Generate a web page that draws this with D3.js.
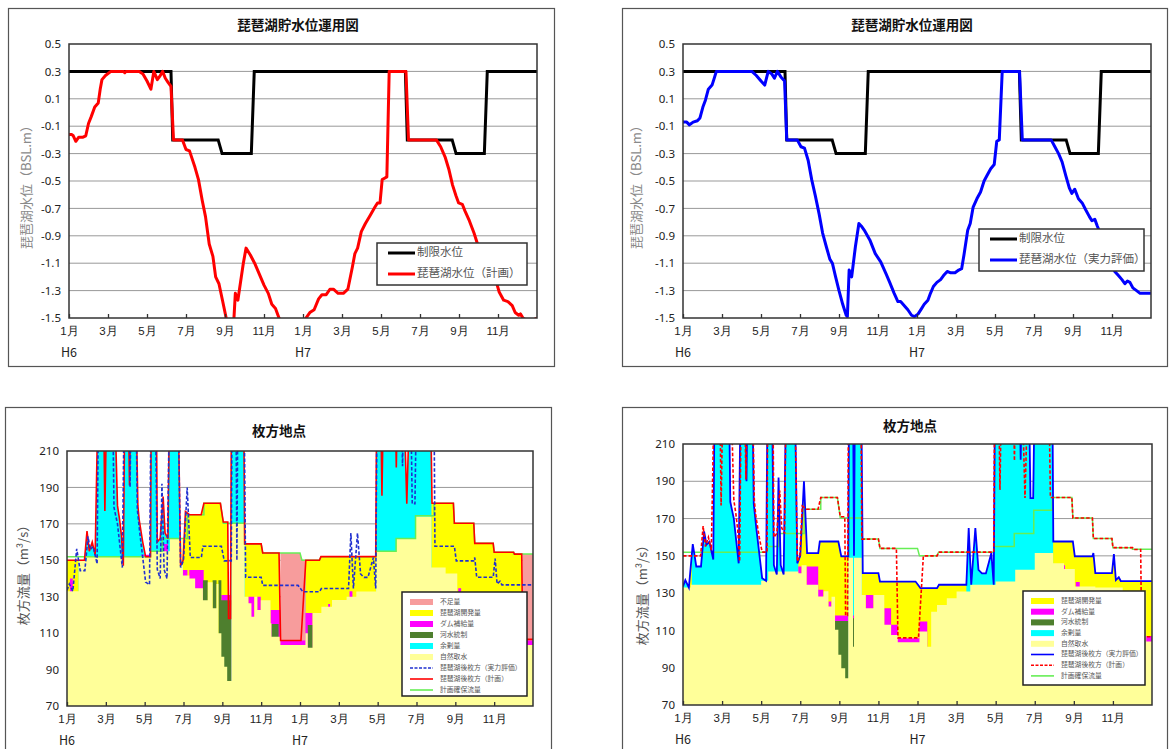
<!DOCTYPE html>
<html><head><meta charset="utf-8">
<script src="https://cdn.jsdelivr.net/npm/d3@7"></script>
<style>
body{margin:0;background:#fff;}
svg{display:block;font-family:"Noto Sans CJK JP","Noto Sans",sans-serif;}
</style>
</head><body>
<svg id="c" width="1169" height="749"></svg>
<script>
// ---------- axis data ----------
const monthTicks = [0,2,4,6,8,10,12,14,16,18,20,22];
const monthLabels = ["1月","3月","5月","7月","9月","11月","1月","3月","5月","7月","9月","11月"];
const yearTicks = [0,12];
const yearLabels = ["H6","H7"];
const levelTicks = [0.5,0.3,0.1,-0.1,-0.3,-0.5,-0.7,-0.9,-1.1,-1.3,-1.5];
const flowTicks = [210,190,170,150,130,110,90,70];

// ---------- lake level (months since Jan H6, BSL m) ----------
const limitLevel = [[0,0.3],[5.23,0.3],[5.32,-0.2],[7.65,-0.2],[7.85,-0.3],[9.35,-0.3],[9.5,0.3],[17.25,0.3],[17.35,-0.2],[19.65,-0.2],[19.85,-0.3],[21.3,-0.3],[21.45,0.3],[24,0.3]];

const planLevel = [[0,-0.16],[0.13,-0.16],[0.22,-0.17],[0.35,-0.21],[0.5,-0.18],[0.72,-0.18],[0.86,-0.17],[1.0,-0.08],[1.14,-0.03],[1.32,0.04],[1.5,0.07],[1.6,0.17],[1.69,0.24],[1.87,0.27],[2.15,0.3],[2.8,0.3],[2.86,0.29],[2.92,0.3],[3.6,0.3],[3.8,0.28],[4.0,0.23],[4.2,0.17],[4.35,0.3],[4.53,0.24],[4.68,0.27],[4.8,0.3],[4.94,0.25],[5.08,0.22],[5.23,0.19],[5.36,-0.2],[5.82,-0.2],[6.0,-0.27],[6.18,-0.28],[6.46,-0.4],[6.64,-0.49],[6.83,-0.64],[7.0,-0.76],[7.19,-0.96],[7.38,-1.05],[7.52,-1.2],[7.69,-1.25],[7.87,-1.37],[8.06,-1.5],[8.2,-1.62],[8.42,-1.6],[8.53,-1.32],[8.66,-1.37],[8.94,-1.1],[9.08,-0.99],[9.3,-1.04],[9.52,-1.1],[9.76,-1.18],[10.0,-1.26],[10.22,-1.32],[10.4,-1.4],[10.59,-1.43],[10.77,-1.5],[11.2,-1.62],[11.8,-1.62],[12.15,-1.5],[12.35,-1.46],[12.57,-1.44],[12.8,-1.36],[12.97,-1.33],[13.19,-1.33],[13.38,-1.29],[13.56,-1.29],[13.8,-1.32],[14.07,-1.32],[14.3,-1.29],[14.53,-1.13],[14.66,-1.03],[14.8,-0.99],[14.99,-0.87],[15.2,-0.81],[15.45,-0.75],[15.69,-0.69],[15.82,-0.66],[15.95,-0.66],[16.06,-0.49],[16.18,-0.48],[16.3,-0.47],[16.42,0.3],[17.28,0.3],[17.41,-0.2],[18.84,-0.2],[19.06,-0.25],[19.3,-0.33],[19.49,-0.42],[19.67,-0.53],[19.85,-0.61],[19.98,-0.66],[20.17,-0.67],[20.31,-0.72],[20.53,-0.79],[20.77,-0.88],[20.95,-0.96],[21.3,-1.05],[21.6,-1.15],[21.96,-1.26],[22.06,-1.31],[22.29,-1.37],[22.51,-1.38],[22.73,-1.41],[22.88,-1.46],[23.06,-1.48],[23.15,-1.47],[23.28,-1.5],[23.6,-1.53],[24,-1.5]];

const evalLevel = [[0,-0.07],[0.19,-0.07],[0.33,-0.09],[0.52,-0.07],[0.74,-0.06],[0.87,-0.04],[1.02,0.04],[1.15,0.09],[1.3,0.17],[1.49,0.2],[1.58,0.24],[1.71,0.3],[3.53,0.3],[3.76,0.27],[4.0,0.23],[4.19,0.2],[4.37,0.3],[4.56,0.28],[4.69,0.25],[4.84,0.3],[5.02,0.26],[5.21,0.23],[5.32,-0.2],[5.86,-0.2],[6.05,-0.25],[6.23,-0.26],[6.42,-0.35],[6.6,-0.49],[6.79,-0.61],[6.98,-0.74],[7.16,-0.88],[7.35,-0.98],[7.53,-1.07],[7.66,-1.1],[7.81,-1.19],[8.0,-1.3],[8.19,-1.4],[8.37,-1.48],[8.43,-1.49],[8.52,-1.15],[8.65,-1.2],[8.84,-0.98],[9.02,-0.81],[9.15,-0.83],[9.3,-0.86],[9.58,-0.93],[9.86,-1.03],[10.14,-1.09],[10.42,-1.18],[10.6,-1.24],[10.83,-1.32],[11.02,-1.38],[11.16,-1.38],[11.35,-1.41],[11.53,-1.44],[11.72,-1.48],[11.87,-1.49],[12.06,-1.47],[12.24,-1.43],[12.37,-1.4],[12.56,-1.37],[12.69,-1.32],[12.84,-1.27],[13.02,-1.24],[13.21,-1.22],[13.36,-1.19],[13.55,-1.16],[13.73,-1.17],[13.95,-1.17],[14.14,-1.15],[14.29,-1.14],[14.42,-1.03],[14.6,-0.86],[14.73,-0.81],[14.88,-0.69],[15.07,-0.63],[15.26,-0.58],[15.44,-0.5],[15.59,-0.46],[15.78,-0.41],[15.96,-0.38],[16.09,-0.21],[16.22,-0.2],[16.37,0.3],[17.26,0.3],[17.4,-0.2],[18.88,-0.2],[19.07,-0.25],[19.26,-0.3],[19.44,-0.36],[19.63,-0.46],[19.81,-0.55],[19.94,-0.59],[20.09,-0.56],[20.28,-0.63],[20.47,-0.66],[20.65,-0.71],[20.84,-0.76],[20.97,-0.79],[21.12,-0.78],[21.25,-0.83],[21.6,-0.95],[21.9,-1.07],[22.14,-1.16],[22.33,-1.19],[22.51,-1.22],[22.66,-1.25],[22.79,-1.23],[22.92,-1.24],[23.07,-1.28],[23.26,-1.3],[23.44,-1.32],[23.63,-1.32],[24,-1.32]];

// ---------- Hirakata flows (months, m3/s) ----------
const flowPlan = [[0,150],[0.9,150],[1.03,166],[1.15,155],[1.3,160],[1.45,153],[1.6,240],[1.88,240],[1.95,177],[2.05,240],[2.45,240],[2.6,180],[2.7,173],[2.8,164],[2.9,147],[2.98,240],[3.15,240],[3.22,191],[3.3,240],[3.55,240],[3.65,180],[3.72,172],[3.9,160],[4.05,152],[4.3,152],[4.34,240],[4.6,240],[4.65,160],[4.8,162],[4.95,185],[5.05,165],[5.2,162],[5.28,240],[5.72,240],[5.85,147],[5.98,150],[6.1,176.7],[6.31,175],[6.91,175],[7.05,181.3],[7.9,181.3],[8.05,171],[8.28,171],[8.32,118],[8.42,118],[8.47,240],[9.1,240],[9.15,159],[10.0,159],[10.08,154],[10.92,154],[11.0,106],[12.05,106],[12.3,150],[13.0,150],[13.08,152],[15.9,152],[15.95,240],[16.15,240],[16.22,185.5],[16.3,240],[16.9,240],[16.96,201],[17.02,240],[17.35,240],[17.5,181],[17.65,240],[18.72,240],[18.8,181.3],[19.9,181.3],[19.95,170.3],[20.95,170.3],[21.0,159.3],[21.95,159.3],[22.0,154.4],[23.0,154.4],[23.05,153.4],[23.42,153.4],[23.47,106.6],[24,106.6]];

const flowEval = [[0,133.6],[0.12,137],[0.3,133],[0.5,156.3],[0.68,144.3],[0.92,144.3],[1.08,163.1],[1.2,156],[1.35,157.5],[1.55,148],[1.62,240],[2.35,240],[2.42,179],[2.6,170],[2.85,146],[2.95,240],[3.2,240],[3.25,190],[3.3,240],[3.55,240],[3.62,178],[3.75,165],[3.95,147],[4.05,138],[4.25,136.6],[4.33,240],[4.55,240],[4.65,145],[4.8,140],[4.89,192],[5.0,145],[5.15,140],[5.28,240],[5.72,240],[5.85,146],[6.0,150],[6.19,190],[6.35,151.5],[6.92,151.5],[7.0,157.7],[7.95,157.7],[8.1,149.7],[8.46,149.7],[8.5,240],[8.7,240],[8.75,150],[8.8,240],[9.12,240],[9.2,140.7],[10.0,140.7],[10.08,136.2],[11.9,136.2],[12.15,132.7],[13.0,132.7],[13.1,134.5],[14.5,134.5],[14.62,164.9],[14.75,134.5],[14.96,164.9],[15.12,142.5],[15.3,140.6],[15.5,140.6],[15.78,151.5],[15.9,134.5],[15.97,240],[17.22,240],[17.28,201.6],[17.34,240],[17.7,240],[17.78,181],[17.92,181],[18.0,240],[18.9,240],[18.95,157.7],[19.95,157.7],[20.05,149.7],[20.95,149.7],[21.0,151.5],[21.1,140.7],[21.95,140.7],[22.05,151],[22.15,137],[22.3,138.5],[22.4,136.5],[24,136.5]];

const flowTarget = [[0,152],[4.3,152],[4.3,155],[4.9,155],[4.9,162],[6.2,162],[6.2,175],[7.05,175],[7.05,181.3],[7.9,181.3],[8.05,170.3],[9.15,170.3],[9.15,159],[10.0,159],[10.08,154],[12.0,154],[12.1,150],[13.0,150],[13.08,152],[15.92,152],[15.92,155],[16.95,155],[16.95,162],[17.95,162],[17.95,174.5],[18.9,174.5],[18.9,181.3],[19.9,181.3],[19.95,170.3],[20.95,170.3],[21.0,159.3],[21.95,159.3],[22.0,154.4],[23.0,154.4],[23.0,153.5],[24,153.5]];

// stacked boundaries (step after): top of 自然取水, 河水統制, ダム補給量
const natL = [[0,133],[0.6,150],[1.0,152],[4.3,155],[5.3,161.7],[5.97,141.6],[6.3,140],[6.6,134.6],[7.0,128],[7.25,138],[7.5,123.6],[7.7,137],[7.8,110],[7.95,97],[8.1,91.6],[8.25,83.7],[8.47,170],[9.15,130],[9.34,126.4],[9.5,119],[9.65,130],[9.8,122.7],[9.98,128],[10.48,115.4],[10.53,108],[10.99,103.5],[12.28,110],[12.4,102],[12.65,121],[13.1,124.5],[13.65,128.2],[14.4,130],[14.9,132.8],[15.92,155],[16.95,161.7],[17.95,174],[18.77,146],[19.5,142.8],[20.1,132],[21.0,131],[23.45,103.5],[24,103.5]];
const greenL = [[0,70],[7.0,139],[7.25,70],[7.5,139],[7.7,70],[7.8,139],[7.95,128],[8.47,70],[8.6,125.4],[8.8,70],[10.53,115],[10.9,70],[12.4,114.5],[12.65,70],[24,70]];
const magL = [[0,70],[0.15,140],[0.3,70],[3.83,153],[4.3,70],[5.0,159],[5.2,70],[5.94,144.7],[6.2,70],[6.3,144.7],[7.04,70],[7.95,131],[8.47,70],[8.6,131],[8.84,70],[9.34,130],[9.65,70],[9.8,130],[9.98,70],[10.48,122.7],[10.99,106],[12.28,121],[12.65,70],[13.45,126],[13.55,70],[14.55,133],[14.7,70],[19.1,144.7],[19.4,70],[20.15,134.6],[20.3,70],[23.45,106],[24,106]];

const natR = [[0,133],[0.4,134.5],[4.0,136.6],[4.36,141.6],[5.9,140.7],[6.07,145],[6.32,134.5],[6.92,128.2],[7.2,131],[7.44,122.8],[7.6,128],[7.78,110.3],[7.95,96.9],[8.1,89.7],[8.3,84.3],[8.46,149],[8.7,101.3],[8.75,149],[9.15,129],[9.35,121.9],[9.75,129],[10.3,113],[10.65,107.6],[10.99,103.7],[12.1,109.4],[12.5,101.3],[12.7,120],[13.0,123.7],[13.5,127.3],[14.0,130.9],[14.7,134.5],[16.0,136.2],[17.0,142.5],[18.0,151.5],[18.94,146],[19.5,143],[20.05,133.6],[21.1,133],[22.5,131],[23.7,104],[24,104]];
const greenR = [[0,70],[7.78,115],[8.46,70],[8.7,116.5],[8.75,70],[24,70]];
const magR = [[0,70],[5.9,144.3],[6.07,70],[6.32,144.3],[6.92,131.8],[7.18,70],[7.44,125.5],[7.6,70],[7.78,118],[8.46,70],[8.7,118],[8.75,70],[9.35,129],[9.75,70],[10.3,121.9],[10.65,113],[10.99,105.8],[12.1,114.8],[12.5,70],[13.45,120],[13.55,70],[14.65,129],[14.75,70],[19.3,145],[19.55,70],[20.1,136],[20.3,70],[23.7,107],[24,107]];

const yellowPeriodsL = [[0,0.6],[5.97,8.3],[9.15,10.99],[12.3,15.92],[18.77,23.45]];
const deficitPeriodsL = [[10.99,12.3],[23.45,24]];
const yellowPeriodsR = [[0.3,0.45],[5.9,8.46],[9.15,14.5],[18.94,24]];

const legendNamesL = ["不足量","琵琶湖開発量","ダム補給量","河水統制","余剰量","自然取水","琵琶湖後枚方（実力評価）","琵琶湖後枚方（計画）","計画確保流量"];
const legendNamesR = ["琵琶湖開発量","ダム補給量","河水統制","余剰量","自然取水","琵琶湖後枚方（実力評価）","琵琶湖後枚方（計画）","計画確保流量"];

// ---------- styles ----------
const C = {
  pink:"#F79C9C", yellow:"#FFFF00", magenta:"#FF00FF", green:"#4E7F2E",
  cyan:"#00FFFF", pale:"#FFFF99", red:"#FF0000", blue:"#0000FF", dblue:"#2030D0", lgreen:"#66EE55"
};
const legendStyle = {
  "不足量":{t:"a",c:C.pink}, "琵琶湖開発量":{t:"a",c:C.yellow}, "ダム補給量":{t:"a",c:C.magenta},
  "河水統制":{t:"a",c:C.green}, "余剰量":{t:"a",c:C.cyan}, "自然取水":{t:"a",c:C.pale},
  "計画確保流量":{t:"l",c:C.lgreen}
};

const svg = d3.select("#c");
const defs = svg.append("defs");
let clipN = 0;

function frame(b){
  svg.append("rect").attr("x",b[0]+0.5).attr("y",b[1]+0.5).attr("width",b[2]-b[0]).attr("height",b[3]-b[1])
    .attr("fill","#fff").attr("stroke","#555").attr("stroke-width",1.2);
}

function setup(p, dom){
  const x = d3.scaleLinear().domain([0,24]).range([p.x0,p.x1]);
  const y = d3.scaleLinear().domain(dom).range([p.y1,p.y0]);
  const id = "pc"+(clipN++);
  defs.append("clipPath").attr("id",id).append("rect")
    .attr("x",p.x0).attr("y",p.y0).attr("width",p.x1-p.x0).attr("height",p.y1-p.y0);
  const g = svg.append("g").attr("clip-path",`url(#${id})`);
  return {x,y,g};
}

function periodClip(periods, x, p){
  const id = "pp"+(clipN++);
  defs.append("clipPath").attr("id",id).selectAll("rect").data(periods).join("rect")
    .attr("x",d=>x(d[0])).attr("width",d=>x(d[1])-x(d[0])).attr("y",p.y0).attr("height",p.y1-p.y0);
  return `url(#${id})`;
}

function drawAxes(p, x, y, ticks, fmt){
  const ya = svg.append("g").attr("transform",`translate(${p.x0},0)`)
    .call(d3.axisLeft(y).tickValues(ticks).tickSize(0).tickPadding(8).tickFormat(fmt));
  ya.select(".domain").remove();
  ya.selectAll("text").attr("font-size",11.5).attr("fill","#222").attr("font-family","Noto Sans, sans-serif");
  const xa = svg.append("g").attr("transform",`translate(0,${p.y1})`)
    .call(d3.axisBottom(x).tickValues(monthTicks).tickSizeInner(-4).tickSizeOuter(0).tickPadding(9).tickFormat((d,i)=>monthLabels[i]));
  xa.select(".domain").remove();
  xa.selectAll("line").attr("stroke","#333").attr("stroke-width",1.3);
  xa.selectAll("text").attr("font-size",11.5).attr("fill","#222");
  svg.append("g").selectAll("text").data(yearTicks).join("text")
    .attr("x",d=>x(d)).attr("y",p.y1+39).attr("text-anchor","middle")
    .attr("font-size",12.5).attr("fill","#222").text((d,i)=>yearLabels[i]);
  svg.append("rect").attr("x",p.x0).attr("y",p.y0).attr("width",p.x1-p.x0).attr("height",p.y1-p.y0)
    .attr("fill","none").attr("stroke","#333").attr("stroke-width",1.5);
}

function gridLines(g, p, y, ticks){
  g.selectAll("line.gr").data(ticks.slice(1,-1)).join("line").attr("class","gr")
    .attr("x1",p.x0).attr("x2",p.x1).attr("y1",d=>y(d)).attr("y2",d=>y(d))
    .attr("stroke","#999").attr("stroke-width",1);
}

function title(txt, cx, cy){
  svg.append("text").attr("x",cx).attr("y",cy).attr("text-anchor","middle").attr("dominant-baseline","middle")
    .attr("font-size",13.5).attr("font-weight","bold").attr("fill","#111").text(txt);
}
function ytitle(txt, cx, cy, col){
  svg.append("text").attr("transform",`translate(${cx},${cy}) rotate(-90)`).attr("text-anchor","middle")
    .attr("dominant-baseline","middle").attr("font-size",13).attr("fill",col).text(txt);
}

// ================= TOP PANELS =================
function levelPanel(p, box, series, col, name, legendBox, titleX, yTitleX){
  frame(box);
  const {x,y,g} = setup(p, [-1.5,0.5]);
  gridLines(g, p, y, levelTicks);
  const line = d3.line().x(d=>x(d[0])).y(d=>y(d[1]));
  g.append("path").attr("d",line(limitLevel)).attr("fill","none").attr("stroke","#000").attr("stroke-width",3);
  g.append("path").attr("d",line(series)).attr("fill","none").attr("stroke",col).attr("stroke-width",3).attr("stroke-linejoin","round");
  drawAxes(p, x, y, levelTicks, d=>d.toFixed(1));
  title("琵琶湖貯水位運用図", titleX, 26);
  ytitle("琵琶湖水位（BSL.m）", yTitleX, 184, "#8a8a8a");
  const [lx0,ly0,lx1,ly1] = legendBox;
  svg.append("rect").attr("x",lx0).attr("y",ly0).attr("width",lx1-lx0).attr("height",ly1-ly0)
    .attr("fill","#fff").attr("stroke","#333").attr("stroke-width",1.5);
  const items = [["制限水位","#000"],[name,col]];
  items.forEach((it,i)=>{
    const yy = ly0 + 10 + i*21;
    svg.append("line").attr("x1",lx0+11).attr("x2",lx0+38).attr("y1",yy).attr("y2",yy).attr("stroke",it[1]).attr("stroke-width",3);
    svg.append("text").attr("x",lx0+40).attr("y",yy).attr("dominant-baseline","middle").attr("font-size",11.5).attr("fill","#555").text(it[0]);
  });
}

levelPanel({x0:69,x1:537,y0:44,y1:318},[8,8,554,366],planLevel,C.red,"琵琶湖水位（計画）",[377,243,527,285],298,27);
levelPanel({x0:683,x1:1151,y0:44,y1:318},[622,8,1167,366],evalLevel,C.blue,"琵琶湖水位（実力評価）",[979,229,1144,271],912,637);

// ================= BOTTOM PANELS =================
function flowPanel(side){
  const isL = side==="L";
  const p = isL ? {x0:67,x1:533,y0:451,y1:706} : {x0:683,x1:1152,y0:444,y1:705};
  const box = isL ? [5,407,551,770] : [622,407,1167,770];
  frame(box);
  const {x,y,g} = setup(p, [70,210]);
  gridLines(g, p, y, flowTicks);
  const main = isL ? flowPlan : flowEval;
  const lin = (base)=> d3.area().x(d=>x(d[0])).y0(y(base)).y1(d=>y(d[1]));
  const stp = (base)=> d3.area().x(d=>x(d[0])).y0(y(base)).y1(d=>y(d[1])).curve(d3.curveStepAfter);
  g.append("path").attr("d",lin(70)(main)).attr("fill",C.cyan);
  if(isL){
    g.append("g").attr("clip-path",periodClip(deficitPeriodsL,x,p))
      .append("path").attr("d",lin(70)(flowTarget)).attr("fill",C.pink);
  }
  g.append("g").attr("clip-path",periodClip(isL?yellowPeriodsL:yellowPeriodsR,x,p))
    .append("path").attr("d",lin(70)(main)).attr("fill",C.yellow);
  g.append("path").attr("d",stp(70)(isL?magL:magR)).attr("fill",C.magenta);
  g.append("path").attr("d",stp(70)(isL?greenL:greenR)).attr("fill",C.green);
  g.append("path").attr("d",stp(70)(isL?natL:natR)).attr("fill",C.pale);
  const line = d3.line().x(d=>x(d[0])).y(d=>y(d[1]));
  g.append("path").attr("d",line(flowTarget)).attr("fill","none").attr("stroke",C.lgreen).attr("stroke-width",1.5);
  if(isL){
    g.append("path").attr("d",line(flowPlan)).attr("fill","none").attr("stroke",C.red).attr("stroke-width",1.6);
    g.append("path").attr("d",line(flowEval)).attr("fill","none").attr("stroke",C.dblue).attr("stroke-width",1.6).attr("stroke-dasharray","3.5,2");
  } else {
    g.append("path").attr("d",line(flowEval)).attr("fill","none").attr("stroke",C.blue).attr("stroke-width",1.8);
    g.append("path").attr("d",line(flowPlan)).attr("fill","none").attr("stroke",C.red).attr("stroke-width",1.6).attr("stroke-dasharray","3.5,2");
  }
  drawAxes(p, x, y, flowTicks, d=>String(d));
  title("枚方地点", isL?279:910, isL?432:427);
  ytitle("枚方流量（m³/s）", isL?24:643, isL?572:592, "#555");
  const lb = isL ? [402,592,527,696] : [1023,591,1145,685];
  svg.append("rect").attr("x",lb[0]).attr("y",lb[1]).attr("width",lb[2]-lb[0]).attr("height",lb[3]-lb[1])
    .attr("fill","#fff").attr("stroke","#222").attr("stroke-width",1.5);
  const names = isL ? legendNamesL : legendNamesR;
  const step = isL ? 11 : 10.7;
  names.forEach((n,i)=>{
    const yy = lb[1] + 10 + i*step;
    let st = legendStyle[n];
    if(!st){
      const isEval = n.indexOf("実力")>=0;
      if(isL) st = isEval ? {t:"d",c:C.dblue} : {t:"l",c:C.red};
      else st = isEval ? {t:"l",c:C.blue} : {t:"d",c:C.red};
    }
    const sx0 = lb[0]+8, sx1 = lb[0]+31;
    if(st.t==="a"){
      svg.append("rect").attr("x",sx0).attr("y",yy-3).attr("width",sx1-sx0).attr("height",6).attr("fill",st.c);
    } else {
      svg.append("line").attr("x1",sx0).attr("x2",sx1).attr("y1",yy).attr("y2",yy).attr("stroke",st.c)
        .attr("stroke-width",1.6).attr("stroke-dasharray",st.t==="d"?"3,1.5":null);
    }
    svg.append("text").attr("x",lb[0]+38).attr("y",yy).attr("dominant-baseline","middle")
      .attr("font-size",6.8).attr("fill","#555").text(n);
  });
}
flowPanel("L");
flowPanel("R");
</script>
</body></html>
